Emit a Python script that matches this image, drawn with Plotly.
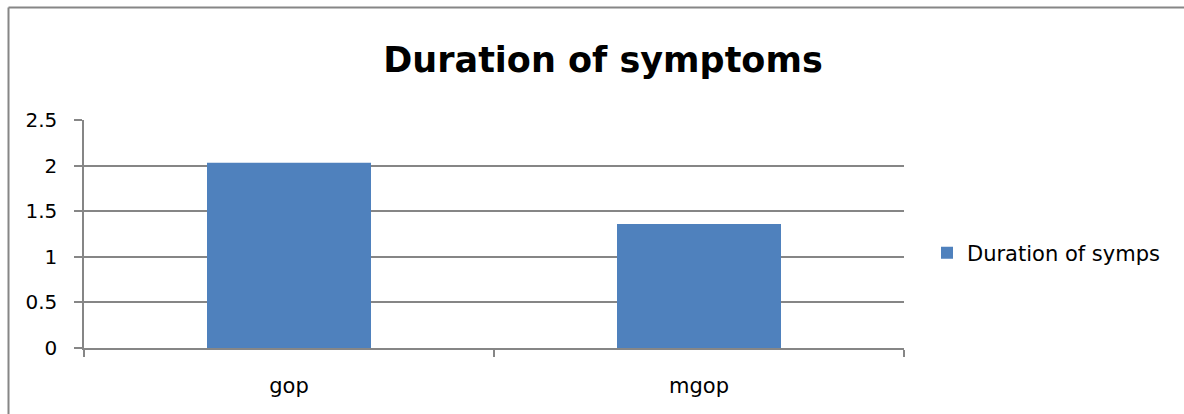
import plotly.graph_objects as go

categories = ["gop", "mgop"]
durations = [2.03, 1.36]
series_name = "Duration of symps"
chart_title = "Duration of symptoms"
y_ticks = [0, 0.5, 1, 1.5, 2, 2.5]
y_tick_labels = ["0", "0.5", "1", "1.5", "2", "2.5"]

W, H = 1184, 414
L, R, T, B = 84, 280, 120, 66
pw, ph = W - L - R, H - T - B

def px_x(x):
    return (x - L) / pw

def px_y(y):
    return (H - B - y) / ph

GRID = "#868686"
FONT = "'DejaVu Sans', sans-serif"

fig = go.Figure()
fig.add_trace(go.Bar(
    x=categories,
    y=durations,
    name=series_name,
    marker=dict(color="#4F81BD", line=dict(width=0)),
    width=0.4,
    showlegend=True,
))

fig.update_layout(
    width=W,
    height=H,
    margin=dict(l=L, r=R, t=T, b=B),
    paper_bgcolor="white",
    plot_bgcolor="white",
    font=dict(family=FONT, color="#000000", size=18),
    title=dict(
        text="<b>" + chart_title + "</b>",
        font=dict(family=FONT, size=35, color="#000000"),
        x=px_x(603), xanchor="center", xref="paper",
        y=1 - 60 / H, yanchor="middle",
    ),
    showlegend=True,
    legend=dict(
        x=px_x(927), xanchor="left",
        y=px_y(253), yanchor="middle",
        font=dict(family=FONT, size=21, color="#000000"),
        bgcolor="rgba(0,0,0,0)",
        itemwidth=30,
    ),
    bargap=0.6,
)

fig.update_xaxes(
    type="category",
    showline=True, linecolor=GRID, linewidth=1.5,
    ticks="outside", tickson="boundaries", ticklen=7, tickcolor=GRID, tickwidth=1.5,
    showgrid=False,
    tickfont=dict(family=FONT, size=21, color="#000000"),
    ticklabelstandoff=18,
)

fig.update_yaxes(
    range=[0, 2.5],
    tickvals=y_ticks, ticktext=y_tick_labels,
    showline=True, linecolor=GRID, linewidth=1.5,
    ticks="outside", ticklen=8, tickcolor=GRID, tickwidth=1.5,
    showgrid=True, gridcolor=GRID, gridwidth=1.5,
    zeroline=False,
    tickfont=dict(family=FONT, size=20, color="#000000"),
    ticklabelstandoff=13,
)

# Chart frame: left and top edges of the surrounding border
fig.add_shape(type="line", xref="paper", yref="paper",
              x0=px_x(8.5), x1=px_x(8.5), y0=px_y(7.5), y1=px_y(H + 5),
              line=dict(color=GRID, width=2))
fig.add_shape(type="line", xref="paper", yref="paper",
              x0=px_x(8.5), x1=px_x(W + 5), y0=px_y(7.5), y1=px_y(7.5),
              line=dict(color=GRID, width=2))

fig.write_html("out.html")
